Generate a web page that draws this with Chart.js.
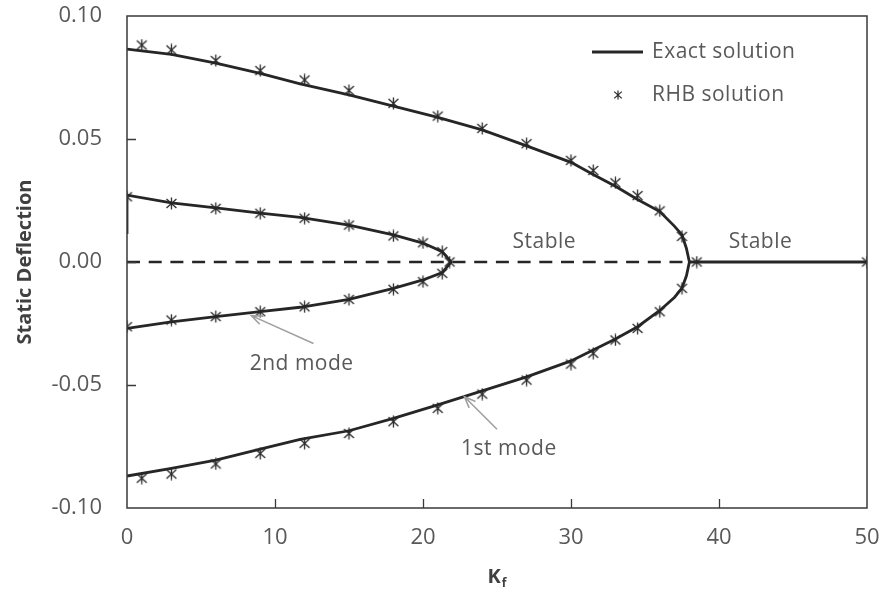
<!DOCTYPE html>
<html><head><meta charset="utf-8">
<script src="https://cdn.jsdelivr.net/npm/chart.js@4.4.1/dist/chart.umd.min.js"></script>
<style>html,body{margin:0;padding:0;background:#fff;}canvas{display:block;}</style>
</head><body>
<canvas id="c" width="881" height="590"></canvas>
<script>
// ---------- data ----------
// Exact solution, 1st mode: upper branch then lower branch
const mode1ExactUpperK = [0, 1, 3, 6, 9, 11.7, 15, 18, 21, 24, 27, 30, 31.5, 33, 34.5, 36, 37, 37.5, 37.8, 38.0];
const mode1ExactUpperY = [0.0865, 0.0858, 0.0844, 0.0808, 0.0767, 0.0724, 0.0679, 0.0634, 0.0588, 0.0537, 0.0472, 0.0405, 0.0356, 0.0308, 0.0254, 0.0205, 0.0145, 0.0110, 0.0055, 0];
const mode1ExactLowerK = [37.8, 37.5, 37, 36, 34.5, 33, 31.5, 30, 27, 24, 21, 18, 15, 11.7, 9, 6, 3, 0];
const mode1ExactLowerY = [-0.0056, -0.0106, -0.0143, -0.0197, -0.0263, -0.0313, -0.0358, -0.0402, -0.0467, -0.0524, -0.0581, -0.0636, -0.0686, -0.0721, -0.0761, -0.0805, -0.0839, -0.0870];
// Exact solution, 2nd mode
const mode2ExactUpperK = [0, 0, 3, 6, 9, 11.7, 15, 18, 20, 21.3, 21.9];
const mode2ExactUpperY = [0.0114, 0.0272, 0.0240, 0.0220, 0.0199, 0.0181, 0.0150, 0.0110, 0.0077, 0.0042, 0];
const mode2ExactLowerK = [21.3, 20, 18, 15, 11.7, 9, 6, 3, 0];
const mode2ExactLowerY = [-0.0043, -0.0073, -0.0107, -0.0152, -0.0184, -0.0202, -0.0222, -0.0243, -0.0270];
// Exact solution, stable trivial branch and unstable (dashed) trivial branch
const stableK = [38.0, 50];
const stableY = [0, 0];
const unstableK = [0, 38.0];
const unstableY = [0, 0];
// RHB solution points
const rhbMode1K = [1, 3, 6, 9, 12, 15, 18, 21, 24, 27, 30, 31.5, 33, 34.5, 36, 37.5];
const rhbMode1Upper = [0.0882, 0.0862, 0.0819, 0.0778, 0.0740, 0.0697, 0.0645, 0.0593, 0.0543, 0.0481, 0.0413, 0.0372, 0.0322, 0.0270, 0.0208, 0.0104];
const rhbMode1Lower = [-0.0879, -0.0862, -0.0821, -0.0778, -0.0737, -0.0697, -0.0649, -0.0595, -0.0537, -0.0480, -0.0415, -0.0371, -0.0317, -0.0270, -0.0202, -0.0107];
const rhbMode2K = [0, 3, 6, 9, 12, 15, 18, 20, 21.3];
const rhbMode2Upper = [0.0265, 0.0238, 0.0218, 0.0198, 0.0178, 0.0150, 0.0106, 0.0078, 0.0042];
const rhbMode2Lower = [-0.0263, -0.0236, -0.0222, -0.0202, -0.0182, -0.0152, -0.0111, -0.0080, -0.0046];
const rhbTrivialK = [21.8, 38.5, 50];
const rhbTrivialY = [0, 0, 0];
// axis ticks
const xTicks = [0, 10, 20, 30, 40, 50];
const yTicks = [-0.10, -0.05, 0.00, 0.05, 0.10];
// labels
const seriesNames = ['Exact solution', 'RHB solution'];
const yTitle = 'Static Deflection';
const xTitleMain = 'K';
const xTitleSub = 'f';
// annotations: [text, K, deflection]
const notes = [['Stable', 28.2, 0.0080], ['Stable', 42.8, 0.0080], ['2nd mode', 11.8, -0.0415], ['1st mode', 25.8, -0.0760]];
// arrows: [fromK, fromY, toK, toY]
const arrows = [[12.6, -0.0331, 8.4, -0.0218], [25.0, -0.0680, 22.8, -0.0548]];

// ---------- helpers ----------
const zip = (xs, ys) => xs.map((x, i) => ({x: x, y: ys[i]}));
const LINE = '#262626';
const TXT = '#595959';

const mode1Curve = zip(mode1ExactUpperK, mode1ExactUpperY).concat(zip(mode1ExactLowerK, mode1ExactLowerY));
const mode2Curve = zip(mode2ExactUpperK, mode2ExactUpperY).concat(zip(mode2ExactLowerK, mode2ExactLowerY));
const rhbPoints = [].concat(
  zip(rhbMode1K, rhbMode1Upper), zip(rhbMode1K, rhbMode1Lower),
  zip(rhbMode2K, rhbMode2Upper), zip(rhbMode2K, rhbMode2Lower),
  zip(rhbTrivialK, rhbTrivialY));

// star marker (vertical bar + X)
function makeStar(size, lw) {
  const c = document.createElement('canvas');
  c.width = size; c.height = size;
  const g = c.getContext('2d');
  const m = size / 2;
  g.strokeStyle = '#2a2a2a'; g.lineWidth = lw; g.lineCap = 'butt';
  g.beginPath();
  g.moveTo(m, 0.5); g.lineTo(m, size - 0.5);
  g.moveTo(m - size * 0.38, m - size * 0.34); g.lineTo(m + size * 0.38, m + size * 0.34);
  g.moveTo(m + size * 0.38, m - size * 0.34); g.lineTo(m - size * 0.38, m + size * 0.34);
  g.stroke();
  return c;
}
const star = makeStar(13, 1.3);
const starSmall = makeStar(10, 1.2);

Chart.defaults.font.family = "'Open Sans', sans-serif";

const decor = {
  id: 'decor',
  afterDraw(chart) {
    const {ctx, chartArea: a, scales: {x, y}} = chart;
    ctx.save();
    // frame
    ctx.strokeStyle = '#3a3a3a';
    ctx.lineWidth = 1.5;
    ctx.strokeRect(a.left, a.top, a.right - a.left, a.bottom - a.top);
    // inward tick marks
    ctx.beginPath();
    yTicks.forEach(v => {
      if (v <= y.min || v >= y.max) return;
      const py = Math.round(y.getPixelForValue(v)) + 0.5;
      ctx.moveTo(a.left, py); ctx.lineTo(a.left + 9, py);
    });
    xTicks.forEach(v => {
      if (v <= x.min || v >= x.max) return;
      const px = Math.round(x.getPixelForValue(v)) + 0.5;
      ctx.moveTo(px, a.bottom); ctx.lineTo(px, a.bottom - 9);
    });
    ctx.lineWidth = 1.3;
    ctx.stroke();

    // arrows
    ctx.strokeStyle = '#a0a0a0';
    ctx.lineWidth = 1.6;
    arrows.forEach(([k0, d0, k1, d1]) => {
      const x0 = x.getPixelForValue(k0), y0 = y.getPixelForValue(d0);
      const x1 = x.getPixelForValue(k1), y1 = y.getPixelForValue(d1);
      const ang = Math.atan2(y1 - y0, x1 - x0);
      const h = 12, spread = 0.38;
      ctx.beginPath();
      ctx.moveTo(x0, y0); ctx.lineTo(x1, y1);
      ctx.moveTo(x1 - h * Math.cos(ang - spread), y1 - h * Math.sin(ang - spread));
      ctx.lineTo(x1, y1);
      ctx.lineTo(x1 - h * Math.cos(ang + spread), y1 - h * Math.sin(ang + spread));
      ctx.stroke();
    });

    // annotations
    ctx.fillStyle = TXT;
    ctx.font = "21px 'Open Sans', sans-serif";
    if ('letterSpacing' in ctx) ctx.letterSpacing = '0.5px';
    ctx.textAlign = 'center';
    ctx.textBaseline = 'middle';
    notes.forEach(([t, k, d]) => ctx.fillText(t, x.getPixelForValue(k), y.getPixelForValue(d)));

    // legend
    const lx = a.right - 275, ly1 = a.top + 36, ly2 = a.top + 79;
    ctx.strokeStyle = LINE; ctx.lineWidth = 2.8;
    ctx.beginPath(); ctx.moveTo(lx, ly1); ctx.lineTo(lx + 51, ly1); ctx.stroke();
    ctx.drawImage(starSmall, lx + 26 - 5, ly2 - 5);
    ctx.textAlign = 'left';
    ctx.fillText(seriesNames[0], lx + 60, ly1);
    ctx.fillText(seriesNames[1], lx + 60, ly2);
    if ('letterSpacing' in ctx) ctx.letterSpacing = '0px';

    // x title with subscript
    ctx.fillStyle = '#404040';
    ctx.font = "bold 20px 'Open Sans', sans-serif";
    ctx.textBaseline = 'alphabetic';
    const cx = (a.left + a.right) / 2;
    const wK = ctx.measureText(xTitleMain).width;
    ctx.font = "bold 12px 'Open Sans', sans-serif";
    const wf = ctx.measureText(xTitleSub).width;
    const startX = cx - (wK + wf + 1) / 2;
    ctx.font = "bold 20px 'Open Sans', sans-serif";
    ctx.fillText(xTitleMain, startX, 583);
    ctx.font = "bold 12px 'Open Sans', sans-serif";
    ctx.fillText(xTitleSub, startX + wK + 1, 587);
    ctx.restore();
  }
};

new Chart(document.getElementById('c'), {
  type: 'scatter',
  data: {
    datasets: [
      {label: seriesNames[0], data: mode1Curve, showLine: true, borderColor: LINE, borderWidth: 2.8, pointRadius: 0, tension: 0, fill: false},
      {label: seriesNames[0] + ' (2nd mode)', data: mode2Curve, showLine: true, borderColor: LINE, borderWidth: 2.8, pointRadius: 0, tension: 0, fill: false},
      {label: 'stable', data: zip(stableK, stableY), showLine: true, borderColor: LINE, borderWidth: 2.8, pointRadius: 0, fill: false},
      {label: 'unstable', data: zip(unstableK, unstableY), showLine: true, borderColor: LINE, borderWidth: 2.6, borderDash: [13, 8.7], pointRadius: 0, fill: false},
      {label: seriesNames[1], data: rhbPoints, showLine: false, pointStyle: star, pointRadius: 6, borderColor: '#2a2a2a', backgroundColor: '#2a2a2a'}
    ]
  },
  options: {
    responsive: false,
    animation: false,
    events: [],
    layout: {padding: {left: 0, right: 14, top: 16, bottom: 0}},
    plugins: {legend: {display: false}, tooltip: {enabled: false}},
    scales: {
      x: {
        type: 'linear', min: 0, max: 50,
        afterBuildTicks: s => { s.ticks = xTicks.map(v => ({value: v})); },
        afterFit: s => { s.height = 82; s.paddingLeft = 0; s.paddingRight = 0; },
        grid: {display: false, drawTicks: false},
        border: {display: false},
        ticks: {color: TXT, font: {size: 22}, padding: 17, maxRotation: 0, callback: v => String(v)}
      },
      y: {
        type: 'linear', min: -0.10, max: 0.10,
        afterBuildTicks: s => { s.ticks = yTicks.map(v => ({value: v})); },
        afterFit: s => { s.width = 127; s.paddingTop = 0; s.paddingBottom = 0; },
        grid: {display: false, drawTicks: false},
        border: {display: false},
        ticks: {color: TXT, font: {size: 22}, padding: 25, callback: v => Number(v).toFixed(2)},
        title: {display: true, text: yTitle, color: '#404040', font: {size: 20, weight: 'bold'}, padding: {top: 13, bottom: 0}}
      }
    }
  },
  plugins: [decor]
});
</script>
</body></html>
